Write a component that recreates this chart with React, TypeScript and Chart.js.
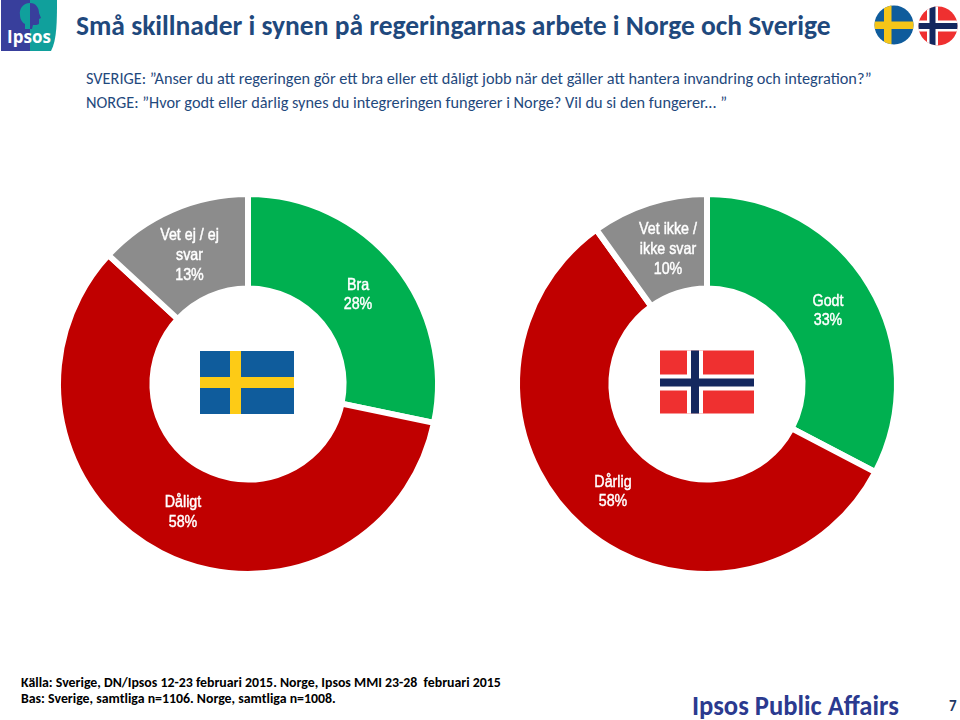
import React, { useEffect, useRef } from "react";
import { Chart, registerables } from "chart.js";

Chart.register(...registerables);

const svCategories = ["Bra", "Dåligt", "Vet ej / ej svar"];
const svValues = [28, 58, 13];
const svLabelLines = [["Bra", "28%"], ["Dåligt", "58%"], ["Vet ej / ej", "svar", "13%"]];
const noCategories = ["Godt", "Dårlig", "Vet ikke / ikke svar"];
const noValues = [33, 58, 10];
const noLabelLines = [["Godt", "33%"], ["Dårlig", "58%"], ["Vet ikke /", "ikke svar", "10%"]];
const sliceColors = ["#00B050", "#C00000", "#8C8C8C"];

const titleText = "Små skillnader i synen på regeringarnas arbete i Norge och Sverige";
const questionSe = "SVERIGE: ”Anser du att regeringen gör ett bra eller ett dåligt jobb när det gäller att hantera invandring och integration?”";
const questionNo = "NORGE: ”Hvor godt eller dårlig synes du integreringen fungerer i Norge? Vil du si den fungerer... ”";
const sourceLine = "Källa: Sverige, DN/Ipsos 12-23 februari 2015. Norge, Ipsos MMI 23-28  februari 2015";
const baseLine = "Bas: Sverige, samtliga n=1106. Norge, samtliga n=1008.";

// label anchor as offset from donut centre
const svLabelAnchors = [[110, -89], [-65, 128.5], [-58.5, -128.5]];
const noLabelAnchors = [[121, -73], [-94, 108], [-39, -134.5]];

function Donut(props: { labels: string[]; values: number[]; lines: string[][]; anchors: number[][]; left: number; top: number }) {
  const ref = useRef<HTMLCanvasElement>(null);
  useEffect(() => {
    const labelPlugin = {
      id: "sliceLabels",
      afterDatasetsDraw(chart: any) {
        const ctx = chart.ctx;
        const arc = chart.getDatasetMeta(0).data[0];
        ctx.save();
        ctx.fillStyle = "#FFFFFF";
        ctx.strokeStyle = "#FFFFFF";
        ctx.lineWidth = 0.45;
        ctx.font = '16.5px "Liberation Sans", sans-serif';
        ctx.textAlign = "center";
        ctx.textBaseline = "middle";
        const squeeze = 0.865;
        props.lines.forEach((ls, i) => {
          const [dx, dy] = props.anchors[i];
          ls.forEach((t, j) => {
            const y = arc.y + dy + (j - (ls.length - 1) / 2) * 19.7;
            ctx.save();
            ctx.translate(arc.x + dx, y);
            ctx.scale(squeeze, 1);
            ctx.fillText(t, 0, 0);
            ctx.strokeText(t, 0, 0);
            ctx.restore();
          });
        });
        ctx.restore();
      },
    };
    const chart = new Chart(ref.current!, {
      type: "doughnut",
      data: {
        labels: props.labels,
        datasets: [{ data: props.values, backgroundColor: sliceColors, borderColor: "#FFFFFF", borderWidth: 6, borderAlign: "center", hoverOffset: 0 }],
      },
      options: {
        responsive: false,
        animation: false,
        cutout: "50.3%",
        radius: 190,
        layout: { padding: 0 },
        plugins: { legend: { display: false }, tooltip: { enabled: false }, title: { display: false } },
      },
      plugins: [labelPlugin],
    });
    return () => chart.destroy();
  }, []);
  return <canvas ref={ref} width={400} height={400} style={{ position: "absolute", left: props.left, top: props.top, width: 400, height: 400 }} />;
}

const abs = (l: number, t: number): React.CSSProperties => ({ position: "absolute", left: l, top: t, whiteSpace: "pre" });
const calibri = 'Carlito, Lato, "Open Sans", sans-serif';

function SwedishFlag({ x, y, w, h }: { x: number; y: number; w: number; h: number }) {
  return (
    <svg style={abs(x, y)} width={w} height={h} viewBox="0 0 94 63">
      <rect width="94" height="63" fill="#0F5C9C" />
      <rect x="30" width="11" height="63" fill="#FDCB16" />
      <rect y="26" width="94" height="11" fill="#FDCB16" />
    </svg>
  );
}

function NorwegianFlag({ x, y, w, h }: { x: number; y: number; w: number; h: number }) {
  return (
    <svg style={abs(x, y)} width={w} height={h} viewBox="0 0 94 63">
      <rect width="94" height="63" fill="#EF3030" />
      <rect x="27" width="16" height="63" fill="#FFFFFF" />
      <rect y="24" width="94" height="16" fill="#FFFFFF" />
      <rect x="31" width="8" height="63" fill="#14285F" />
      <rect y="28" width="94" height="8" fill="#14285F" />
    </svg>
  );
}

function RoundFlag({ x, y, kind }: { x: number; y: number; kind: "se" | "no" }) {
  return (
    <svg style={abs(x, y)} width={40} height={40} viewBox="0 0 40 40">
      <defs>
        <clipPath id={"c" + kind}><circle cx="20" cy="20" r="19.5" /></clipPath>
      </defs>
      {kind === "se" ? (
        <g clipPath={"url(#c" + kind + ")"}>
          <rect width="40" height="40" fill="#0F5C9C" />
          <rect x="10" width="7.5" height="40" fill="#F5C518" />
          <rect y="16.5" width="40" height="7.5" fill="#F5C518" />
        </g>
      ) : (
        <g clipPath={"url(#c" + kind + ")"}>
          <rect width="40" height="40" fill="#EF3030" />
          <rect x="9" width="11" height="40" fill="#FFFFFF" />
          <rect y="14.5" width="40" height="11" fill="#FFFFFF" />
          <rect x="11.5" width="6" height="40" fill="#14285F" />
          <rect y="17" width="40" height="6" fill="#14285F" />
        </g>
      )}
    </svg>
  );
}

function IpsosLogo() {
  const faceLeft = "M29 3C22 3 18 9 19 15C19 20 22 23 24 24L24 29L29 29Z";
  const faceRight = "M29 3C35 3 38 8 38 13L40 18L38 19V23C38 25 35 25 32 25L31 29L29 29Z";
  return (
    <svg style={abs(1, 0)} width={56} height={52} viewBox="0 0 56 52">
      <path d="M29 0H56C56 20 56 40 50 51H29Z" fill="#10A09C" />
      <path d="M0 0H29V51H0Z" fill="#383F9C" />
      <path d={faceLeft} fill="#10A09C" />
      <path d={faceRight} fill="#383F9C" />
      <text x="28" y="43" textAnchor="middle" fontFamily="'Open Sans', sans-serif" fontSize="17" fontWeight="700" fill="#FFFFFF" textLength="44">Ipsos</text>
    </svg>
  );
}

export default function App() {
  return (
    <div style={{ position: "fixed", left: 0, top: 0, width: 960, height: 720, background: "#FFFFFF", overflow: "hidden" }}>
      <IpsosLogo />
      <div style={{ ...abs(76, 9), font: `bold 27.5px ${calibri}`, color: "#1F497D" }}>{titleText}</div>
      <RoundFlag x={874} y={5} kind="se" />
      <RoundFlag x={918} y={6} kind="no" />
      <div style={{ ...abs(86, 68), font: `16.3px ${calibri}`, color: "#1F497D" }}>{questionSe}</div>
      <div style={{ ...abs(86, 92), font: `16.3px ${calibri}`, color: "#1F497D" }}>{questionNo}</div>

      <Donut labels={svCategories} values={svValues} lines={svLabelLines} anchors={svLabelAnchors} left={48} top={184} />
      <Donut labels={noCategories} values={noValues} lines={noLabelLines} anchors={noLabelAnchors} left={507} top={184} />
      <SwedishFlag x={200} y={351} w={94} h={63} />
      <NorwegianFlag x={660} y={350} w={94} h={64} />

      <div style={{ ...abs(21, 674), font: `bold 13.85px ${calibri}`, color: "#000000" }}>{sourceLine}</div>
      <div style={{ ...abs(21, 690), font: `bold 13.85px ${calibri}`, color: "#000000" }}>{baseLine}</div>
      <div style={{ ...abs(692, 688), font: `bold 28px ${calibri}`, color: "#2B3A8F", transform: "scale(0.95,1)", transformOrigin: "left top" }}>Ipsos Public Affairs</div>
      <div style={{ ...abs(949, 697), font: `bold 15px ${calibri}`, color: "#1F3864" }}>7</div>
    </div>
  );
}
